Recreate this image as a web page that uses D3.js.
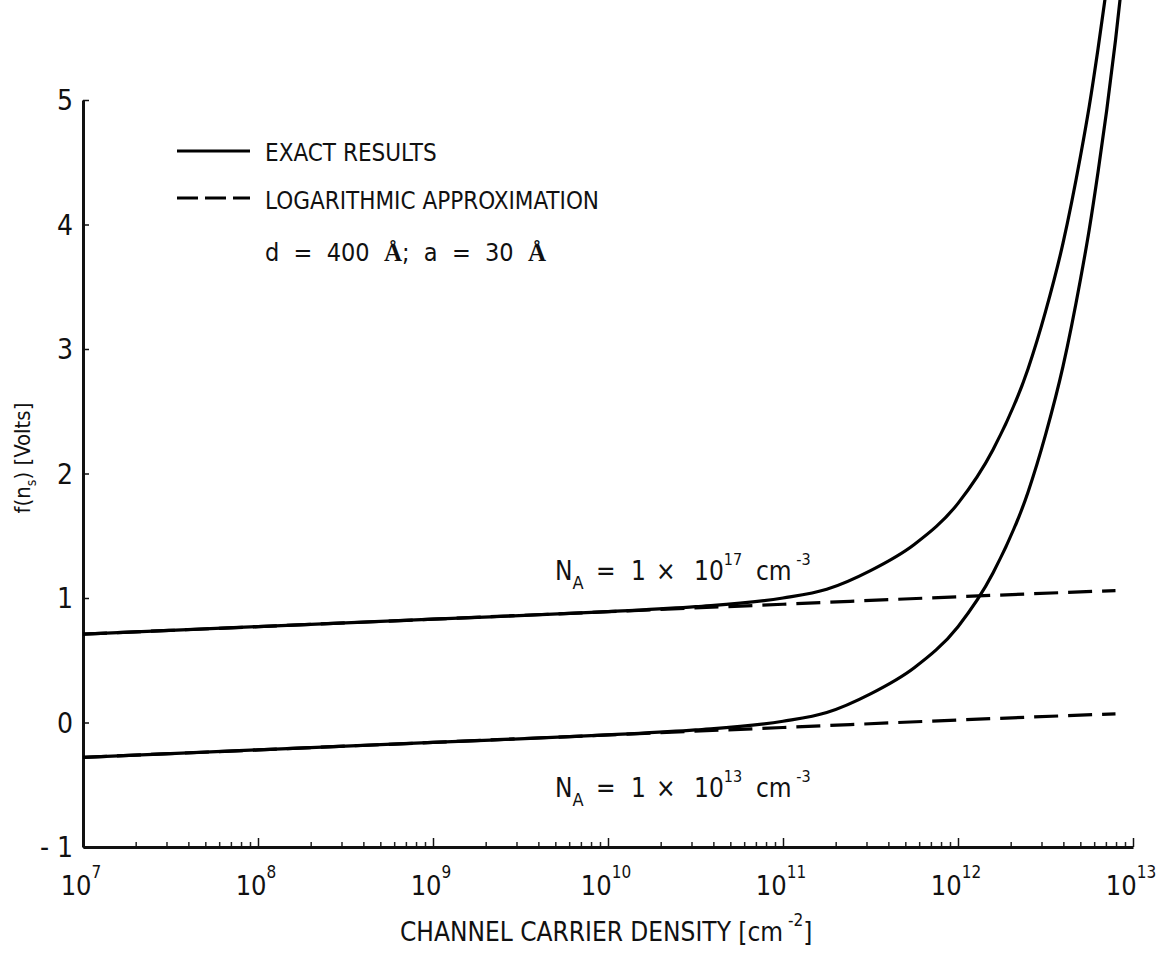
<!DOCTYPE html>
<html>
<head>
<meta charset="utf-8">
<script src="https://cdn.jsdelivr.net/npm/d3@7.9.0/dist/d3.min.js"></script>
<style>
  html, body { margin: 0; padding: 0; background: #fff; }
  svg { display: block; }
  text { font-family: 'Liberation Sans Narrow', 'DejaVu Sans Condensed', 'Arial Narrow', sans-serif; fill: #111; white-space: pre; }
  .serif { font-family: 'Liberation Serif', 'DejaVu Serif', serif; font-weight: bold; }
</style>
</head>
<body>
<div id="chart"></div>
<script>
// log10 of channel carrier density (cm^-2)
const logN = [7, 8, 9, 10, 10.5, 11, 11.25, 11.5, 11.75, 12, 12.2, 12.4, 12.5, 12.6, 12.7, 12.75, 12.8, 12.85, 12.9, 12.95];

// exact results, f(ns) in volts
const exactHigh = [0.71, 0.77, 0.83, 0.89, 0.93, 1.00, 1.07, 1.22, 1.43, 1.76, 2.19, 2.84, 3.30, 3.85, 4.55, 4.95, 5.41, 5.91, null, null];
const exactLow = [-0.28, -0.22, -0.16, -0.10, -0.06, 0.01, 0.08, 0.23, 0.44, 0.77, 1.20, 1.85, 2.31, 2.86, 3.56, 3.96, 4.42, 4.92, 5.48, 6.11];

// logarithmic approximation
const approxLogN = [7, 8, 9, 10, 11, 12, 12.9];
const approxHigh = [0.71, 0.77, 0.83, 0.89, 0.95, 1.01, 1.06];
const approxLow = [-0.28, -0.22, -0.16, -0.10, -0.04, 0.02, 0.07];

const decades = [7, 8, 9, 10, 11, 12, 13];
const yTicks = [-1, 0, 1, 2, 3, 4, 5];

const width = 1160;
const height = 955;

const svg = d3.select('#chart')
  .append('svg')
  .attr('width', width)
  .attr('height', height);

const xScale = d3.scaleLog().domain([1e7, 1e13]).range([83, 1133]);
const yScale = d3.scaleLinear().domain([-1, 5]).range([847, 100]);

// axes
const minorTicks = [];
for (const d of decades.slice(0, -1)) {
  for (let k = 2; k <= 9; k++) minorTicks.push(k * Math.pow(10, d));
}

svg.append('g')
  .attr('transform', `translate(0, ${yScale(-1)})`)
  .call(d3.axisBottom(xScale).tickValues(minorTicks).tickSize(-5).tickFormat(''))
  .call(g => g.select('.domain').remove())
  .selectAll('line').attr('stroke', '#222').attr('stroke-width', 1.5);

svg.append('g')
  .attr('transform', `translate(0, ${yScale(-1)})`)
  .call(d3.axisBottom(xScale).tickValues(decades.map(d => Math.pow(10, d))).tickSize(-9).tickSizeOuter(0).tickFormat(''))
  .call(g => g.select('.domain').attr('stroke', '#111').attr('stroke-width', 3))
  .selectAll('line').attr('stroke', '#111').attr('stroke-width', 1.5);

svg.append('g')
  .attr('transform', `translate(${xScale(1e7)}, 0)`)
  .call(d3.axisLeft(yScale).tickValues(yTicks).tickSize(-6).tickSizeOuter(0).tickFormat(''))
  .call(g => g.select('.domain').attr('stroke', '#111').attr('stroke-width', 3))
  .selectAll('line').attr('stroke', '#111').attr('stroke-width', 1.5);

// x tick labels 10^n
const xLabels = svg.append('g')
  .selectAll('text')
  .data(decades)
  .join('text')
  .attr('x', d => xScale(Math.pow(10, d)) - 2)
  .attr('y', 895)
  .attr('font-size', 27)
  .attr('text-anchor', 'middle');
xLabels.append('tspan').text('10');
xLabels.append('tspan').attr('dy', -17).attr('font-size', 17).text(d => d);

// y tick labels
svg.append('g')
  .selectAll('text')
  .data(yTicks)
  .join('text')
  .attr('x', 73)
  .attr('y', d => yScale(d) + 10)
  .attr('font-size', 28)
  .attr('text-anchor', 'end')
  .text(d => d < 0 ? '- ' + Math.abs(d) : d);

// curves
const line = d3.line()
  .defined(d => d[1] !== null)
  .x(d => xScale(Math.pow(10, d[0])))
  .y(d => yScale(d[1]))
  .curve(d3.curveMonotoneX);

const curves = svg.append('g').attr('fill', 'none').attr('stroke', '#000');

curves.append('path')
  .attr('d', line(approxLogN.map((l, i) => [l, approxHigh[i]])))
  .attr('stroke-width', 3.2)
  .attr('stroke-dasharray', '24,10');
curves.append('path')
  .attr('d', line(approxLogN.map((l, i) => [l, approxLow[i]])))
  .attr('stroke-width', 3.2)
  .attr('stroke-dasharray', '24,10');
curves.append('path')
  .attr('d', line(logN.map((l, i) => [l, exactHigh[i]])))
  .attr('stroke-width', 3.2);
curves.append('path')
  .attr('d', line(logN.map((l, i) => [l, exactLow[i]])))
  .attr('stroke-width', 3.2);

// legend
const legend = svg.append('g');
legend.append('line')
  .attr('x1', 177).attr('x2', 250).attr('y1', 151).attr('y2', 151)
  .attr('stroke', '#000').attr('stroke-width', 3);
legend.append('line')
  .attr('x1', 177).attr('x2', 250).attr('y1', 198).attr('y2', 198)
  .attr('stroke', '#000').attr('stroke-width', 3)
  .attr('stroke-dasharray', '21,7');
legend.append('text').attr('x', 265).attr('y', 161).attr('font-size', 24).text('EXACT RESULTS');
legend.append('text').attr('x', 265).attr('y', 209).attr('font-size', 24).text('LOGARITHMIC APPROXIMATION');
const dText = legend.append('text').attr('x', 265).attr('y', 261).attr('font-size', 25);
dText.append('tspan').text('d  =  400  ');
dText.append('tspan').attr('class', 'serif').text('Å');
dText.append('tspan').text(';  a  =  30  ');
dText.append('tspan').attr('class', 'serif').text('Å');

// curve labels
function naLabel(y, exp) {
  const t = svg.append('text').attr('y', y).attr('font-size', 26);
  t.append('tspan').attr('x', 555).text('N');
  t.append('tspan').attr('dy', 9).attr('font-size', 18).text('A');
  t.append('tspan').attr('x', 596).attr('dy', -9).text('=');
  t.append('tspan').attr('x', 631).text('1');
  t.append('tspan').attr('x', 656).text('×');
  t.append('tspan').attr('x', 694).text('10');
  t.append('tspan').attr('dy', -15).attr('font-size', 16).text(exp);
  t.append('tspan').attr('x', 756).attr('dy', 15).text('cm');
  t.append('tspan').attr('dy', -15).attr('font-size', 16).text(' -3');
}
naLabel(580, '17');
naLabel(797, '13');

// axis titles
const xTitle = svg.append('text')
  .attr('x', 400).attr('y', 941).attr('font-size', 26);
xTitle.append('tspan').text('CHANNEL CARRIER DENSITY [cm');
xTitle.append('tspan').attr('dy', -15).attr('font-size', 17).text(' -2');
xTitle.append('tspan').attr('dy', 15).text(']');

const yTitle = svg.append('text')
  .attr('transform', 'translate(30, 458) rotate(-90)')
  .attr('text-anchor', 'middle')
  .attr('font-size', 22);
yTitle.append('tspan').text('f(n');
yTitle.append('tspan').attr('dy', 6).attr('font-size', 14).text('s');
yTitle.append('tspan').attr('dy', -6).text(') [Volts]');
</script>
</body>
</html>
